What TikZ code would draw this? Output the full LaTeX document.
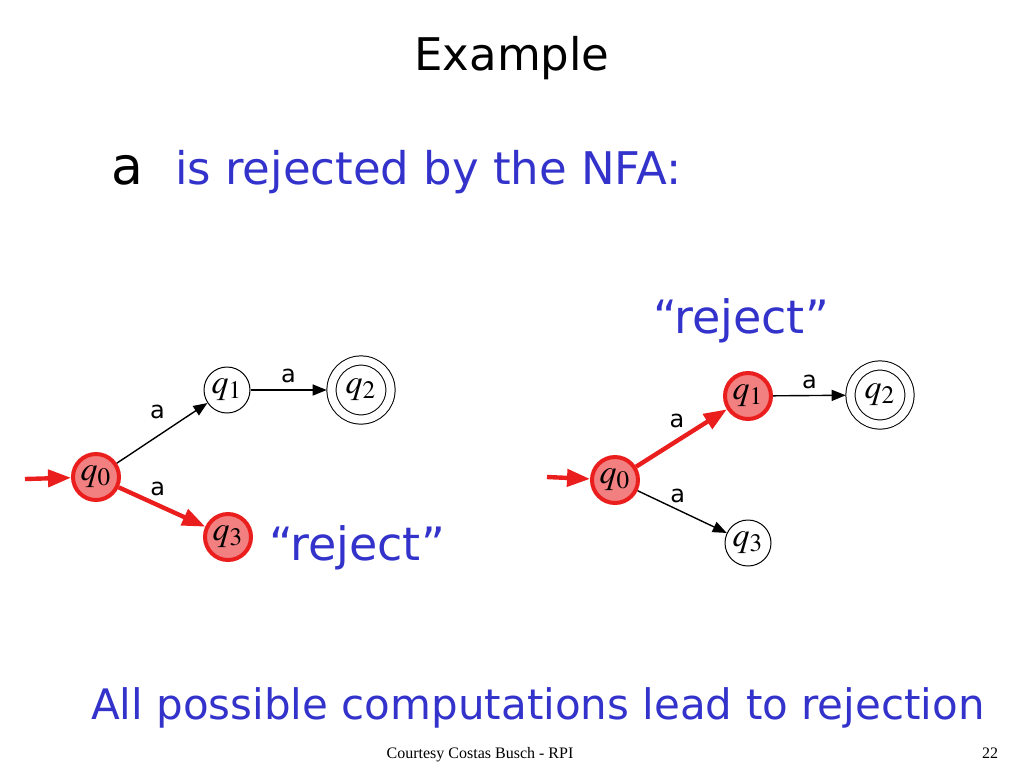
\documentclass[tikz,border=0pt]{standalone}
\usepackage{mathptmx}
\usepackage{fontspec}
\setmainfont{Liberation Serif}
\newfontfamily\comic{DejaVu Sans}
\usetikzlibrary{positioning,arrows.meta}
\definecolor{slide blue}{RGB}{51,51,204}
\definecolor{slide red}{RGB}{235,30,30}
\definecolor{slide pink}{RGB}{242,128,128}
\tikzset {
    style state/.style={
        draw=black,
        line width=0.5pt,
        circle, % Set the shape as a circle
        minimum size=23pt,
        inner sep=0pt,
        font=\fontsize{17}{20}\selectfont,
    },
    style final/.style={
        style state,
        double,
        double distance=4.1pt,
        minimum size=29.5pt,
        outer sep=2.4pt,
    },
    style active/.style={
        style state,
        fill=slide pink,
        draw=slide red,
        line width=2pt,
    },
    style edge/.style={
        draw=black,
        line width=0.7pt,
        -{Triangle[length=7pt,width=5.5pt]},
    },
    style run/.style={
        draw=slide red,
        line width=2.2pt,
        -{Triangle[length=11.5pt,width=8.5pt]},
    },
    style symbol/.style={
        font=\comic\fontsize{12}{14}\selectfont,
        inner sep=1pt,
    },
}

\begin{document}
\begin{tikzpicture}
        [x=0.5pt, y=-0.5pt, font=\comic]
        \useasboundingbox (0,0) rectangle (1024,768);
        % heading
        \node[anchor=base, font=\comic\fontsize{22.5}{27}\selectfont] (title) at (512,70) {Example};
        \node[anchor=base west, text=slide blue, font=\comic\fontsize{22.5}{27}\selectfont] (claim) at (168,184) {is rejected by the NFA:};
        \node[anchor=base east, font=\comic\fontsize{26}{30}\selectfont] (word) at ([xshift=-9pt]claim.base west) {a};

        % first computation
        \node[style active] (l0) at (96,477) {$q_0$};
        \node[style state] (l1) at (227,390) {$q_1$};
        \node[style final] (l2) at (361,390) {$q_2$};
        \node[style active] (l3) at (228,537) {$q_3$};
        \coordinate (lstart) at (25,479);
        \draw[style run] (lstart) -- (l0);
        \draw[style edge] (l0) -- node[style symbol, pos=.45, above=7.5pt] {a} (l1);
        \draw[style edge] (l1) -- node[style symbol, above=2pt] {a} (l2);
        \draw[style run] (l0) -- node[style symbol, pos=.45, above=2.5pt] {a} (l3);
        \node[anchor=base west, text=slide blue, font=\comic\fontsize{23}{28}\selectfont] (lreject) at (262,560) {“reject”};

        % second computation
        \node[style active] (r0) at (615,480) {$q_0$};
        \node[style active] (r1) at (748,396) {$q_1$};
        \node[style final] (r2) at (880,395) {$q_2$};
        \node[style state] (r3) at (748,543) {$q_3$};
        \coordinate (rstart) at (547,477);
        \draw[style run] (rstart) -- (r0);
        \draw[style run] (r0) -- node[style symbol, pos=.45, above=4.5pt] {a} (r1);
        \draw[style edge] (r1) -- node[style symbol, above=2pt] {a} (r2);
        \draw[style edge] (r0) -- node[style symbol, pos=.45, above=2pt] {a} (r3);
        \node[anchor=base west, text=slide blue, font=\comic\fontsize{23}{28}\selectfont] (rreject) at (646,333) {“reject”};

        % conclusion and footer
        \node[anchor=base west, text=slide blue, font=\comic\fontsize{21}{25}\selectfont] (result) at (84,719) {All possible computations lead to rejection};
        \node[anchor=base, font=\rmfamily\fontsize{8}{10}\selectfont] (credit) at (480,758) {Courtesy Costas Busch - RPI};
        \node[anchor=base, font=\rmfamily\fontsize{8}{10}\selectfont] (page) at (990,758) {22};
\end{tikzpicture}
\end{document}
